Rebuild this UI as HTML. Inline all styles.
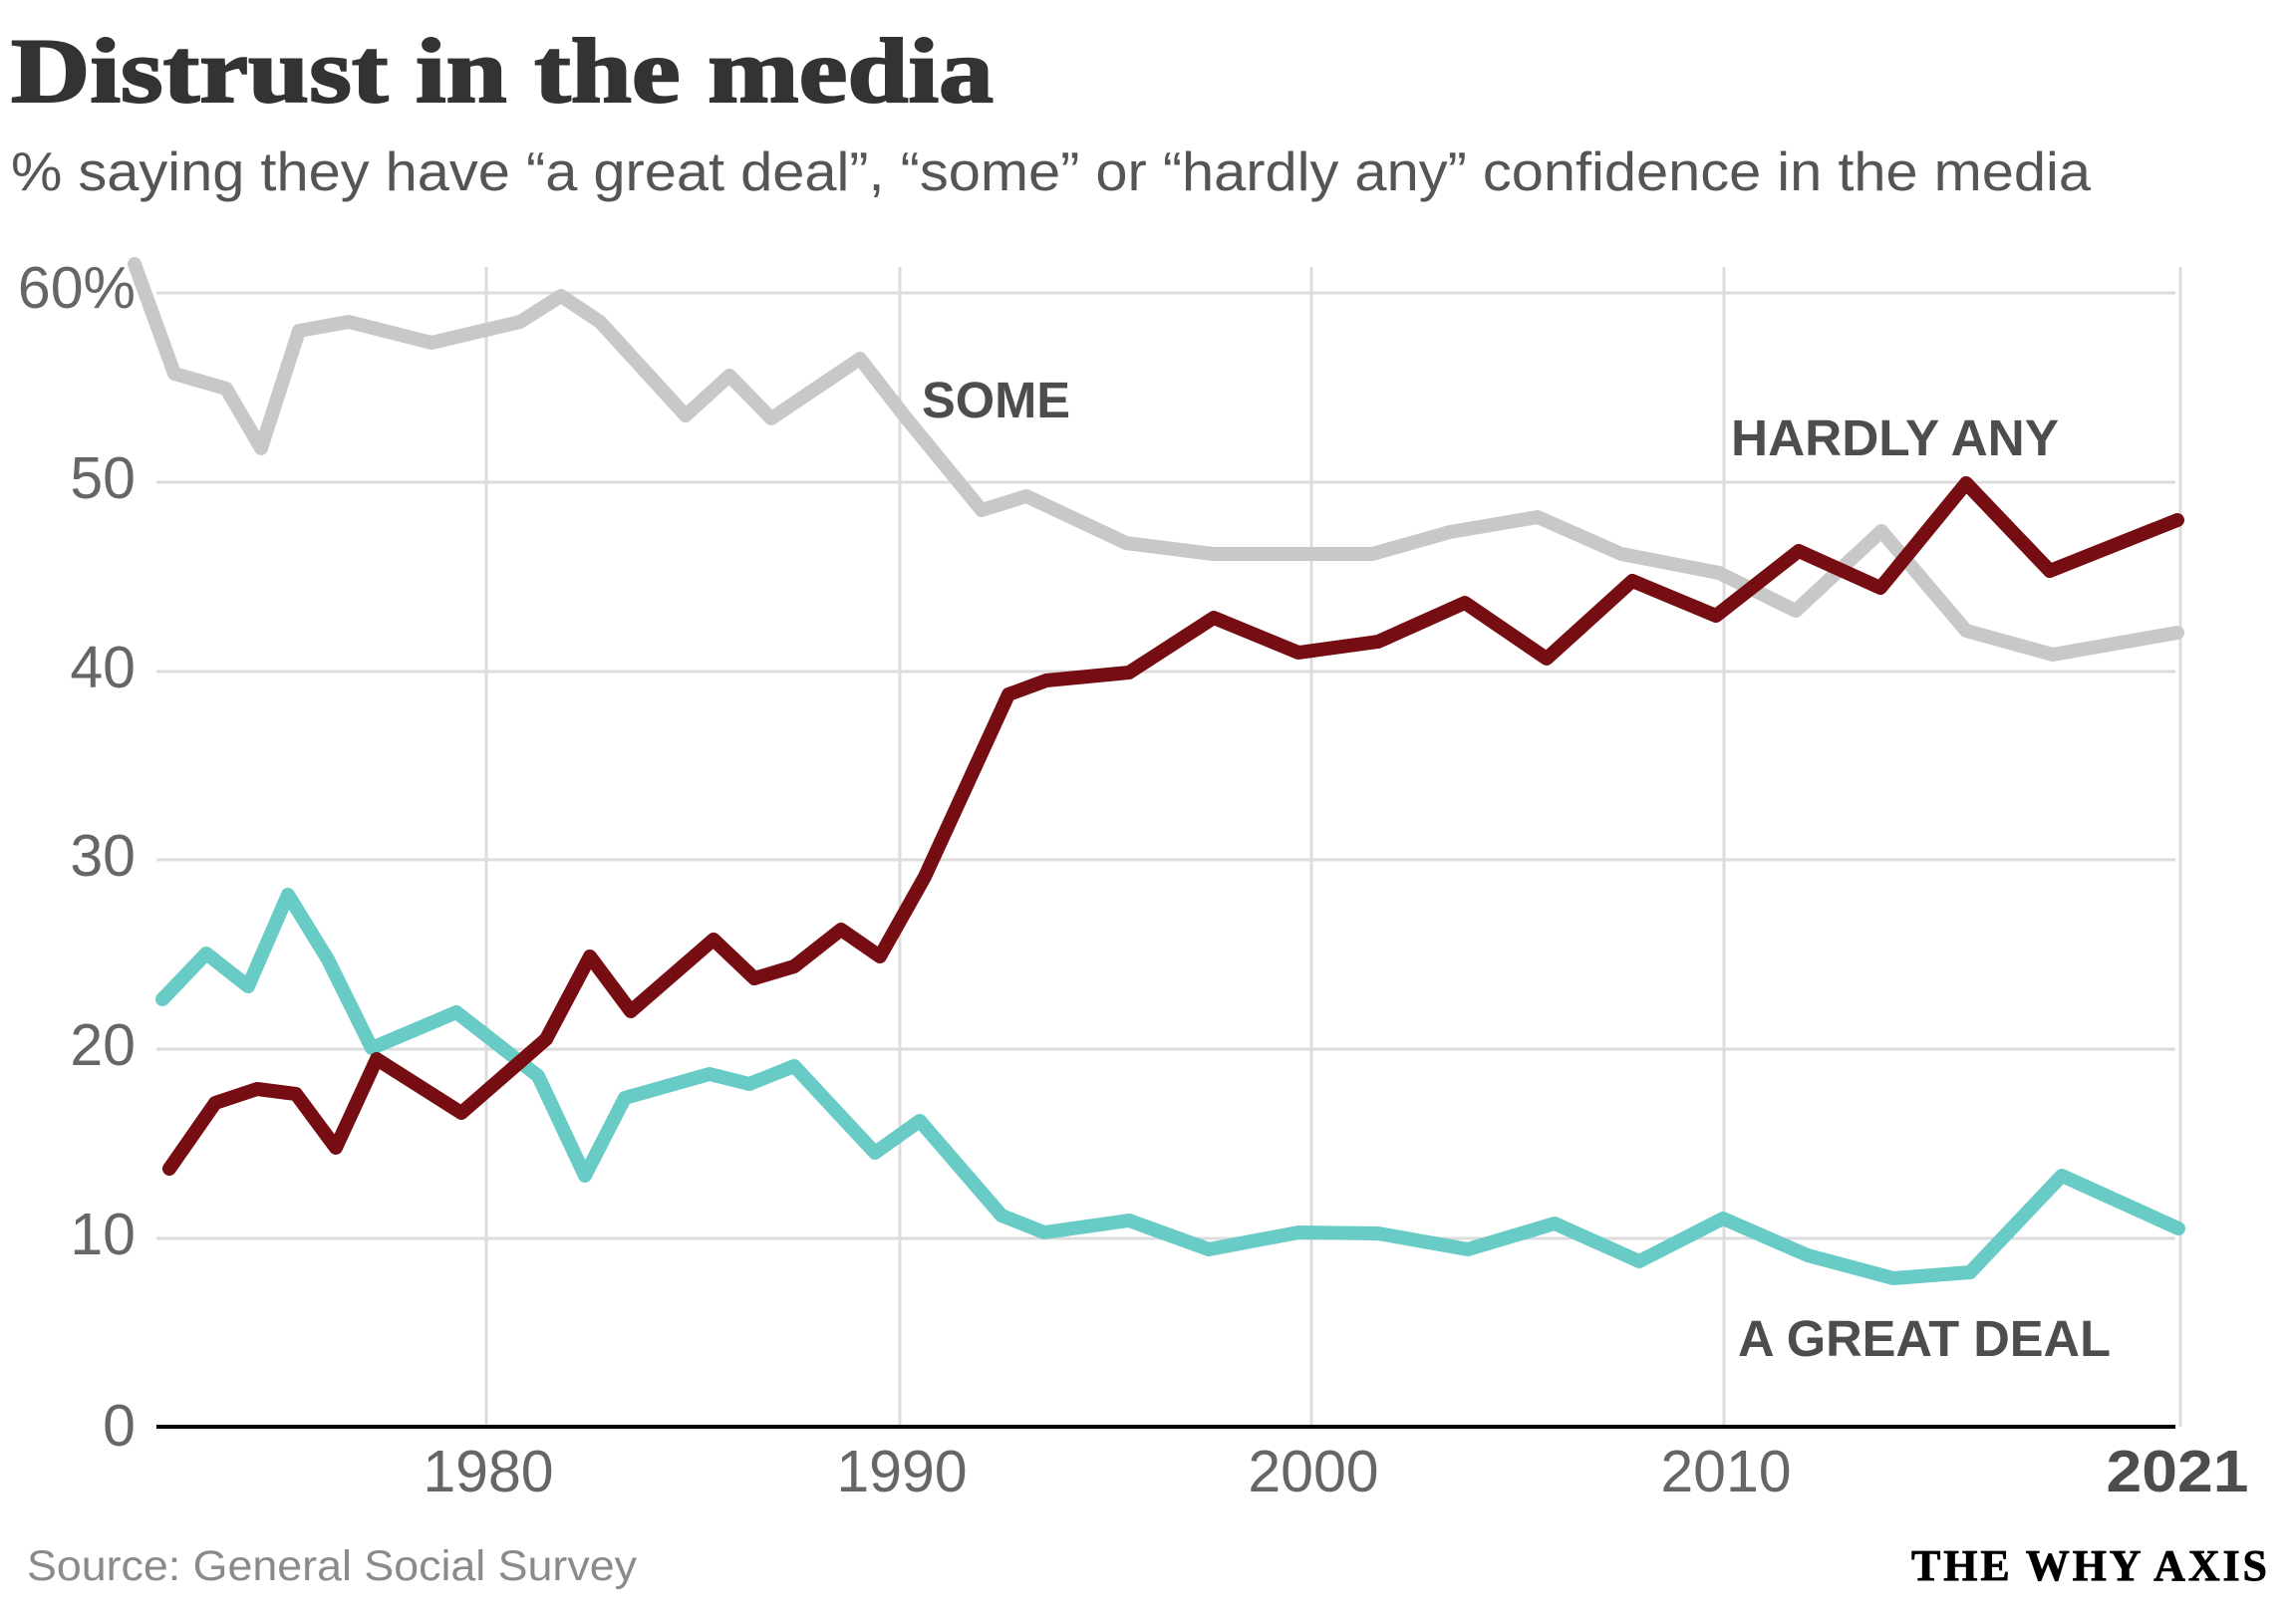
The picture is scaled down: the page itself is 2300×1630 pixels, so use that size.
<!DOCTYPE html>
<html>
<head>
<meta charset="utf-8">
<style>
  html, body { margin: 0; padding: 0; background: #ffffff; }
  svg { display: block; }
</style>
</head>
<body>
<svg width="2300" height="1630" viewBox="0 0 2300 1630" xmlns="http://www.w3.org/2000/svg">
  <rect x="0" y="0" width="2300" height="1630" fill="#ffffff"/>

  <!-- Title -->
  <text x="11" y="102" font-family="'Liberation Serif', serif" font-weight="bold" font-size="92" fill="#333333" stroke="#333333" stroke-width="2" textLength="986" lengthAdjust="spacingAndGlyphs">Distrust in the media</text>

  <!-- Subtitle -->
  <text x="11" y="191" font-family="'Liberation Sans', sans-serif" font-size="55" fill="#555555" textLength="2087" lengthAdjust="spacingAndGlyphs">% saying they have “a great deal”, “some” or “hardly any” confidence in the media</text>

  <!-- Horizontal gridlines -->
  <g stroke="#dcdcdc" stroke-width="3">
    <line x1="157" y1="294" x2="2183" y2="294"/>
    <line x1="157" y1="484" x2="2183" y2="484"/>
    <line x1="157" y1="674" x2="2183" y2="674"/>
    <line x1="157" y1="863" x2="2183" y2="863"/>
    <line x1="157" y1="1053" x2="2183" y2="1053"/>
    <line x1="157" y1="1243" x2="2183" y2="1243"/>
  </g>
  <!-- Vertical gridlines -->
  <g stroke="#dcdcdc" stroke-width="3">
    <line x1="488" y1="268" x2="488" y2="1432"/>
    <line x1="903" y1="268" x2="903" y2="1432"/>
    <line x1="1316" y1="268" x2="1316" y2="1432"/>
    <line x1="1730" y1="268" x2="1730" y2="1432"/>
    <line x1="2188" y1="268" x2="2188" y2="1432"/>
  </g>

  <!-- Axis -->
  <line x1="157" y1="1432" x2="2183" y2="1432" stroke="#000000" stroke-width="4"/>

  <!-- Y labels -->
  <g font-family="'Liberation Sans', sans-serif" font-size="59" fill="#666666" text-anchor="end">
    <text x="136" y="309">60%</text>
    <text x="136" y="500">50</text>
    <text x="136" y="690">40</text>
    <text x="136" y="879">30</text>
    <text x="136" y="1069">20</text>
    <text x="136" y="1259">10</text>
    <text x="136" y="1451">0</text>
  </g>

  <!-- X labels -->
  <g font-family="'Liberation Sans', sans-serif" font-size="59" fill="#666666" text-anchor="middle">
    <text x="490" y="1497">1980</text>
    <text x="905" y="1497">1990</text>
    <text x="1318" y="1497">2000</text>
    <text x="1732" y="1497">2010</text>
  </g>
  <text x="2185" y="1497" font-family="'Liberation Sans', sans-serif" font-weight="bold" font-size="59" fill="#4d4d4d" text-anchor="middle" textLength="143" lengthAdjust="spacingAndGlyphs">2021</text>

  <!-- Series: SOME (grey) -->
  <polyline fill="none" stroke="#c8c8c8" stroke-width="14" stroke-linejoin="round" stroke-linecap="round"
    points="135,265 175,375 227,390 262,450 300,332 350,323 433,344 522,323 563,297 602,323 688,417 732,377 774,420 863,360 908,418 985,512 1030,498 1130,545 1217,556 1377,556 1455,534 1543,519 1627,556 1725,575 1802,613 1888,533 1973,633 2060,657 2185,635"/>

  <!-- Series: A GREAT DEAL (teal) -->
  <polyline fill="none" stroke="#68cbc5" stroke-width="14" stroke-linejoin="round" stroke-linecap="round"
    points="163,1003 207,957 249,990 289,898 329,963 373,1052 458,1016 540,1080 587,1180 627,1102 712,1078 752,1088 797,1070 878,1157 923,1125 1005,1220 1048,1237 1133,1225 1213,1254 1303,1237 1383,1238 1473,1254 1560,1228 1645,1266 1729,1223 1814,1260 1900,1283 1977,1277 2069,1180 2186,1233"/>

  <!-- Series: HARDLY ANY (dark red) -->
  <polyline fill="none" stroke="#760d12" stroke-width="14" stroke-linejoin="round" stroke-linecap="round"
    points="170,1173 216,1107 258,1093 297,1098 337,1152 378,1063 463,1117 548,1043 592,960 633,1015 716,943 757,982 797,970 844,933 883,960 928,880 1012,697 1050,683 1133,675 1218,620 1303,655 1383,644 1470,605 1552,661 1638,583 1722,618 1805,553 1887,590 1973,485 2057,573 2185,522"/>

  <!-- Series labels -->
  <g font-family="'Liberation Sans', sans-serif" font-weight="bold" font-size="51" fill="#4d4d4d">
    <text x="925" y="419" textLength="149" lengthAdjust="spacingAndGlyphs">SOME</text>
    <text x="1737" y="457" textLength="329" lengthAdjust="spacingAndGlyphs">HARDLY ANY</text>
    <text x="1744" y="1361" textLength="374" lengthAdjust="spacingAndGlyphs">A GREAT DEAL</text>
  </g>

  <!-- Footer -->
  <text x="27" y="1586" font-family="'Liberation Sans', sans-serif" font-size="43" fill="#8a8a8a" textLength="612" lengthAdjust="spacingAndGlyphs">Source: General Social Survey</text>
  <text x="1918" y="1586" font-family="'Liberation Serif', serif" font-weight="bold" font-size="44" fill="#000000" stroke="#000000" stroke-width="0.8" textLength="357" lengthAdjust="spacing">THE WHY AXIS</text>
</svg>
</body>
</html>
